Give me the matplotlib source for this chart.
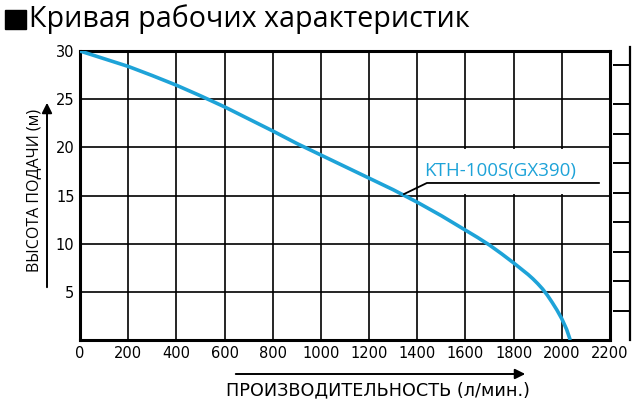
import matplotlib
matplotlib.use("Agg")
import matplotlib.pyplot as plt
from matplotlib.patches import Rectangle, FancyArrowPatch

# данные кривой (л/мин, м)
flow = [0, 100, 200, 300, 400, 500, 600, 700, 800, 900, 1000, 1100, 1200,
        1300, 1400, 1500, 1600, 1650, 1700, 1750, 1800, 1830, 1860, 1880,
        1900, 1920, 1940, 1960, 1980, 2000, 2020, 2035]
head = [30.0, 29.2, 28.4, 27.45, 26.45, 25.35, 24.2, 22.95, 21.7, 20.4,
        19.2, 18.0, 16.8, 15.6, 14.3, 12.9, 11.4, 10.65, 9.85, 8.95, 8.0,
        7.4, 6.8, 6.35, 5.85, 5.3, 4.65, 3.9, 3.1, 2.2, 1.1, 0.0]

x_ticks = [0, 200, 400, 600, 800, 1000, 1200, 1400, 1600, 1800, 2000, 2200]
y_ticks = [5, 10, 15, 20, 25, 30]
model = "KTH-100S(GX390)"
leader_x = [1345, 1440, 2154]
leader_y = [15.15, 16.3, 16.3]
label_box = (1400, 15, 2200, 20)

title = "Кривая рабочих характеристик"
xlabel = "ПРОИЗВОДИТЕЛЬНОСТЬ (л/мин.)"
ylabel = "ВЫСОТА ПОДАЧИ (м)"

# обрезанная шкала справа (в пикселях картинки)
side_ticks = [65, 104, 134, 163, 193, 222, 252, 281, 311]

blue = "#1ea3d8"
narrow = ["Liberation Sans Narrow", "DejaVu Sans"]

fig = plt.figure(figsize=(6.4, 4.13), dpi=100)
W, H = 640, 413

ax = fig.add_axes([80 / W, 1 - 340 / H, 530 / W, 289 / H])
ax.plot(flow, head, color=blue, lw=2.6, solid_capstyle="butt",
        solid_joinstyle="round", zorder=3)
ax.set_xlim(0, 2200)
ax.set_ylim(0, 30)
ax.set_xticks(x_ticks)
ax.set_yticks(y_ticks)
ax.grid(True, color="black", lw=1.2)
ax.tick_params(length=0, pad=4, labelsize=10.5)
for lab in ax.get_xticklabels() + ax.get_yticklabels():
    lab.set_family(narrow)
for s in ax.spines.values():
    s.set_linewidth(2.2)

# белое поле под подписью модели
x0, y0, x1, y1 = label_box
ax.add_patch(Rectangle((x0 + 8, y0 + 0.15), x1 - x0 - 8, y1 - y0 - 0.3,
                       facecolor="white", edgecolor="none", zorder=2))

# подпись модели с выноской
ax.plot(leader_x, leader_y, color="black", lw=1.3, clip_on=False, zorder=4)
ax.text(1430, 17.5, model, color=blue, fontsize=13.5, family="Open Sans",
        ha="left", va="center", zorder=5)

# заголовок
fig.add_artist(Rectangle((5 / W, 1 - 29 / H), 21 / W, 19 / H,
                         transform=fig.transFigure, color="black"))
fig.text(29 / W, 1 - 19 / H, title, fontsize=20.6, va="center", ha="left",
         family="Open Sans")

# подписи осей со стрелками
fig.text(34 / W, 1 - 190 / H, ylabel, rotation=90, fontsize=11.5,
         ha="center", va="center", family="Open Sans")
fig.text(378 / W, 1 - 390 / H, xlabel, fontsize=12.7, ha="center",
         va="center", family=narrow)
fig.add_artist(FancyArrowPatch(
    (47 / W, 1 - 290 / H), (47 / W, 1 - 100 / H), transform=fig.transFigure,
    arrowstyle="-|>,head_length=6,head_width=3", color="black", lw=1.4))
fig.add_artist(FancyArrowPatch(
    (233 / W, 1 - 374 / H), (528 / W, 1 - 374 / H), transform=fig.transFigure,
    arrowstyle="-|>,head_length=6,head_width=3", color="black", lw=1.4))

# вторая шкала, обрезанная краем
ax2 = fig.add_axes([600 / W, 1 - 340 / H, 30 / W, 293 / H])
ax2.set_ylim(340, 47)
ax2.set_xlim(0, 1)
for k in ["left", "top", "bottom"]:
    ax2.spines[k].set_visible(False)
ax2.spines["right"].set_linewidth(1.6)
ax2.set_xticks([])
ax2.yaxis.tick_right()
ax2.set_yticks(side_ticks)
ax2.tick_params(axis="y", direction="in", length=12, width=1.4,
                labelright=False)
ax2.patch.set_alpha(0)

fig.savefig("out.png", dpi=100)
